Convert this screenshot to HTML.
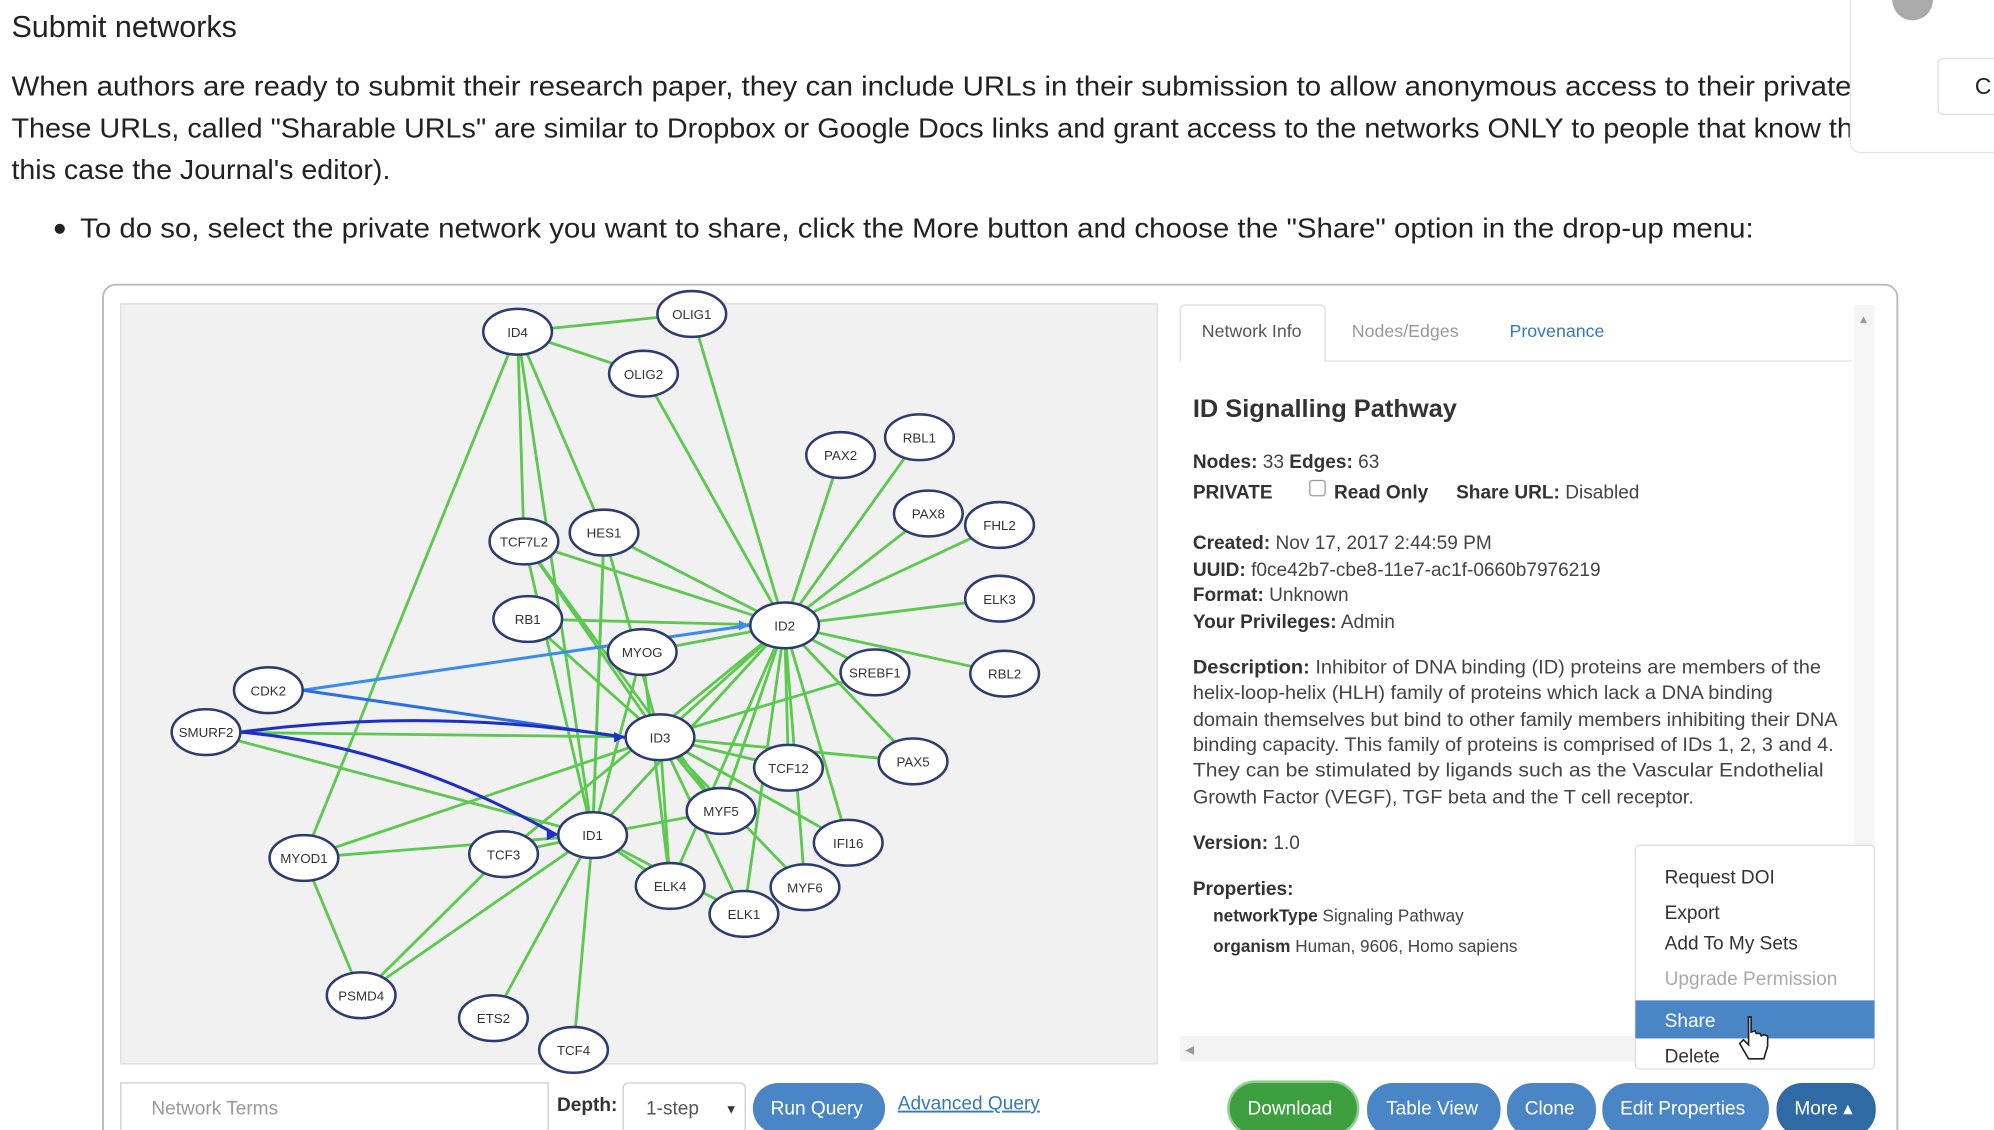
<!DOCTYPE html>
<html><head><meta charset="utf-8"><style>
html,body{margin:0;padding:0;background:#fff;overflow:hidden}
svg{display:block;font-family:"Liberation Sans",sans-serif}
</style></head><body>
<svg id="s" width="1994" height="1130" viewBox="0 0 1568 889" preserveAspectRatio="none">
<text x="9" y="29" font-size="24" fill="#222">Submit networks</text>
<g font-size="21.5" fill="#222">
<text x="9" y="75" textLength="1447" lengthAdjust="spacingAndGlyphs">When authors are ready to submit their research paper, they can include URLs in their submission to allow anonymous access to their private</text>
<text x="9" y="108" textLength="1448" lengthAdjust="spacingAndGlyphs">These URLs, called "Sharable URLs" are similar to Dropbox or Google Docs links and grant access to the networks ONLY to people that know th</text>
<text x="9" y="141" textLength="298" lengthAdjust="spacingAndGlyphs">this case the Journal's editor).</text>
<circle cx="47" cy="180" r="4" fill="#222"/>
<text x="63" y="187" textLength="1316" lengthAdjust="spacingAndGlyphs">To do so, select the private network you want to share, click the More button and choose the "Share" option in the drop-up menu:</text>
</g>
<g>
<rect x="1455" y="-10" width="130" height="130" rx="8" fill="#fff" stroke="#e4e4e4"/>
<circle cx="1504" cy="0" r="16" fill="#aaa"/>
<rect x="1524" y="46" width="60" height="44" rx="4" fill="#fff" stroke="#ddd"/>
<text x="1553" y="74" font-size="18" fill="#222">C</text>
</g>
<rect x="81" y="224" width="1411" height="680" rx="10" fill="#fff" stroke="#bbb" stroke-width="1.5"/>
<rect x="95" y="239" width="815" height="598" fill="#f1f1f1" stroke="#ddd"/>
<g id="edges"></g>
<g id="nodes"></g>
<g font-size="15" fill="#444">
<line x1="928" y1="284" x2="1456" y2="284" stroke="#ddd"/>
<path d="M928 284 V244 a4 4 0 0 1 4 -4 H1038 a4 4 0 0 1 4 4 V284" fill="#fff" stroke="#ddd"/>
<rect x="929" y="282" width="112" height="4" fill="#fff"/>
<text x="945" y="265" font-size="14" fill="#555">Network Info</text>
<text x="1063" y="265" font-size="14" fill="#999">Nodes/Edges</text>
<text x="1187" y="265" font-size="14" fill="#337ab7">Provenance</text>
<rect x="1458" y="240" width="16" height="590" fill="#f5f5f5"/>
<text x="1461" y="254" font-size="9" fill="#999">▲</text>
<text x="938" y="328" font-size="20" font-weight="bold" fill="#333">ID Signalling Pathway</text>
<text x="938" y="368"><tspan font-weight="bold" fill="#333">Nodes:</tspan> 33   <tspan font-weight="bold" fill="#333">Edges:</tspan> 63</text>
<text x="938" y="392" font-weight="bold" fill="#333">PRIVATE</text>
<rect x="1030" y="378" width="12" height="12" rx="2" fill="#fff" stroke="#999"/>
<text x="1049" y="392" font-weight="bold" fill="#333">Read Only</text>
<text x="1145" y="392"><tspan font-weight="bold" fill="#333">Share URL:</tspan> Disabled</text>
<text x="938" y="432"><tspan font-weight="bold" fill="#333">Created:</tspan> Nov 17, 2017 2:44:59 PM</text>
<text x="938" y="453"><tspan font-weight="bold" fill="#333">UUID:</tspan> f0ce42b7-cbe8-11e7-ac1f-0660b7976219</text>
<text x="938" y="473"><tspan font-weight="bold" fill="#333">Format:</tspan> Unknown</text>
<text x="938" y="494"><tspan font-weight="bold" fill="#333">Your Privileges:</tspan> Admin</text>
<text x="938" y="530" textLength="494" lengthAdjust="spacingAndGlyphs"><tspan font-weight="bold" fill="#333">Description:</tspan> Inhibitor of DNA binding (ID) proteins are members of the</text>
<text x="938" y="550" textLength="456" lengthAdjust="spacingAndGlyphs">helix-loop-helix (HLH) family of proteins which lack a DNA binding</text>
<text x="938" y="571" textLength="507" lengthAdjust="spacingAndGlyphs">domain themselves but bind to other family members inhibiting their DNA</text>
<text x="938" y="591" textLength="504" lengthAdjust="spacingAndGlyphs">binding capacity. This family of proteins is comprised of IDs 1, 2, 3 and 4.</text>
<text x="938" y="611" textLength="496" lengthAdjust="spacingAndGlyphs">They can be stimulated by ligands such as the Vascular Endothelial</text>
<text x="938" y="632" textLength="394" lengthAdjust="spacingAndGlyphs">Growth Factor (VEGF), TGF beta and the T cell receptor.</text>
<text x="938" y="668"><tspan font-weight="bold" fill="#333">Version:</tspan> 1.0</text>
<text x="938" y="704" font-weight="bold" fill="#333">Properties:</text>
<text x="954" y="725" font-size="13.5"><tspan font-weight="bold" fill="#333">networkType</tspan> Signaling Pathway</text>
<text x="954" y="749" font-size="13.5"><tspan font-weight="bold" fill="#333">organism</tspan> Human, 9606, Homo sapiens</text>
<rect x="928" y="815" width="358" height="20" fill="#f3f3f3"/>
<text x="932" y="829" font-size="9" fill="#999">◀</text>
</g>
<g font-size="15" fill="#333">
<rect x="1286" y="665" width="188" height="176" rx="3" fill="#fff" stroke="#ddd"/>
<text x="1309" y="695">Request DOI</text>
<text x="1309" y="723">Export</text>
<text x="1309" y="747">Add To My Sets</text>
<text x="1309" y="775" fill="#aaa">Upgrade Permission</text>
<rect x="1286" y="787" width="188" height="30" fill="#4a86c5"/>
<text x="1309" y="808" fill="#fff">Share</text>
<text x="1309" y="836">Delete</text>
<path d="M1375 800 v22 l-4 -4 -3 3 7 12 h12 l3 -10 v-8 l-3 -1 -2 1 -1 -2 -3 0 -1 -2 -3 1 v-12 z" fill="#fff" stroke="#222" stroke-width="1.3"/>
</g>
<g font-size="15">
<rect x="95" y="852" width="336" height="45" fill="#fff" stroke="#ccc"/>
<text x="119" y="877" fill="#999">Network Terms</text>
<text x="438" y="874" font-weight="bold" fill="#333">Depth:</text>
<rect x="490" y="852" width="96" height="40" rx="4" fill="#fff" stroke="#ccc"/>
<text x="508" y="877" fill="#555">1-step</text>
<text x="570" y="876" font-size="10" fill="#333">▼</text>
<rect x="592" y="852" width="104" height="40" rx="20" fill="#4a86c5"/>
<text x="606" y="877" fill="#fff">Run Query</text>
<text x="706" y="873" fill="#337ab7" text-decoration="underline">Advanced Query</text>
<rect x="966" y="851" width="102" height="42" rx="21" fill="#3e9f3e" stroke="#8fd08f" stroke-width="2"/>
<text x="981" y="877" fill="#fff">Download</text>
<rect x="1075" y="852" width="105" height="42" rx="20" fill="#4a86c5"/>
<text x="1090" y="877" fill="#fff">Table View</text>
<rect x="1185" y="852" width="70" height="42" rx="20" fill="#4a86c5"/>
<text x="1199" y="877" fill="#fff">Clone</text>
<rect x="1260" y="852" width="131" height="42" rx="20" fill="#4a86c5"/>
<text x="1274" y="877" fill="#fff">Edit Properties</text>
<rect x="1397" y="852" width="78" height="42" rx="20" fill="#2f6aa5"/>
<text x="1411" y="877" fill="#fff">More ▴</text>
</g>
</svg>
<script>
const nodeNames=["ID4","OLIG1","OLIG2","PAX2","RBL1","PAX8","FHL2","ELK3","RBL2","TCF7L2","HES1","RB1","ID2","MYOG","SREBF1","CDK2","SMURF2","ID3","TCF12","PAX5","MYF5","IFI16","ID1","MYOD1","TCF3","ELK4","MYF6","ELK1","PSMD4","ETS2","TCF4"];
const nodeX=[407,544,506,661,723,730,786,786,790,412,475,415,617,505,688,211,162,519,620,718,567,667,466,239,396,527,633,585,284,388,451];
const nodeY=[261,247,294,358,344,404,413,471,530,426,419,487,492,513,529,543,576,580,604,599,638,663,657,675,672,697,698,719,783,801,826];
const edgeFrom=["ID4","ID4","ID4","ID4","ID4","ID4","OLIG1","ID2","ID2","ID2","ID2","ID2","ID2","ID2","ID2","ID2","ID2","ID2","ID2","ID2","ID2","ID2","ID2","ID2","ID2","ID2","ID2","ID2","ID2","ID3","ID3","ID3","ID3","ID3","ID3","ID3","ID3","ID3","ID3","ID3","ID3","ID3","ID1","ID1","ID1","ID1","ID1","ID1","ID1","ID1","ID1","ID1","MYOD1","TCF3","ID1","HES1","TCF7L2","ID1","MYOG"];
const edgeTo=["OLIG1","OLIG2","TCF7L2","HES1","MYOD1","ID1","ID2","OLIG2","PAX2","RBL1","PAX8","FHL2","ELK3","RBL2","SREBF1","PAX5","IFI16","MYF6","ELK1","MYF5","TCF12","ID3","ID1","TCF3","MYOG","TCF7L2","HES1","RB1","ELK4","HES1","RB1","TCF7L2","SMURF2","MYOD1","TCF12","PAX5","MYF5","ELK4","ELK1","MYF6","IFI16","SREBF1","SMURF2","MYOD1","TCF3","PSMD4","ETS2","TCF4","ELK4","MYF5","MYOG","HES1","PSMD4","PSMD4","TCF7L2","ID1","MYF5","ELK1","ELK4"];
const arcFrom=["CDK2","CDK2","SMURF2","SMURF2"];
const arcTo=["ID2","ID3","ID3","ID1"];
const arcColor=["#3b8bf0","#2a6fe8","#1e2fc8","#1e2fc8"];
const arcBend=[0,0,-22,-30];
const NS="http://www.w3.org/2000/svg";
const eg=document.getElementById('edges'),ng=document.getElementById('nodes');
const idx=n=>nodeNames.indexOf(n);
for(let i=0;i<edgeFrom.length;i++){
 const a=idx(edgeFrom[i]),b=idx(edgeTo[i]);
 const l=document.createElementNS(NS,'line');
 l.setAttribute('x1',nodeX[a]);l.setAttribute('y1',nodeY[a]);
 l.setAttribute('x2',nodeX[b]);l.setAttribute('y2',nodeY[b]);
 l.setAttribute('stroke','#5cc84f');l.setAttribute('stroke-width','2.2');
 
 
 eg.appendChild(l);
}
for(let i=0;i<arcFrom.length;i++){
 const a=idx(arcFrom[i]),b=idx(arcTo[i]);
 const x1=nodeX[a]+27,y1=nodeY[a],x2=nodeX[b]-28,y2=nodeY[b];
 const mx=(x1+x2)/2,my=(y1+y2)/2+arcBend[i];
 const p=document.createElementNS(NS,'path');
 p.setAttribute('d','M'+x1+' '+y1+' Q'+mx+' '+my+' '+x2+' '+y2);
 p.setAttribute('fill','none');p.setAttribute('stroke',arcColor[i]);p.setAttribute('stroke-width','2.4');
 
 
 eg.appendChild(p);
 const t=document.createElementNS(NS,'polygon');
 t.setAttribute('points',x2+' '+y2+' '+(x2-8)+' '+(y2-4)+' '+(x2-8)+' '+(y2+4));
 t.setAttribute('fill',arcColor[i]);
 
 
 eg.appendChild(t);
}
for(let i=0;i<nodeNames.length;i++){
 const g=document.createElementNS(NS,'g');
 
 
 const e=document.createElementNS(NS,'ellipse');
 e.setAttribute('cx',nodeX[i]);e.setAttribute('cy',nodeY[i]);e.setAttribute('rx',27);e.setAttribute('ry',18);
 e.setAttribute('fill','#fff');e.setAttribute('stroke','#2e3b6e');e.setAttribute('stroke-width','2');
 g.appendChild(e);
 const t=document.createElementNS(NS,'text');
 t.setAttribute('x',nodeX[i]);t.setAttribute('y',nodeY[i]+4);t.setAttribute('text-anchor','middle');
 t.setAttribute('font-size','10.5');t.setAttribute('fill','#333');
 t.textContent=nodeNames[i];
 g.appendChild(t);
 ng.appendChild(g);
}
</script>
</body></html>
